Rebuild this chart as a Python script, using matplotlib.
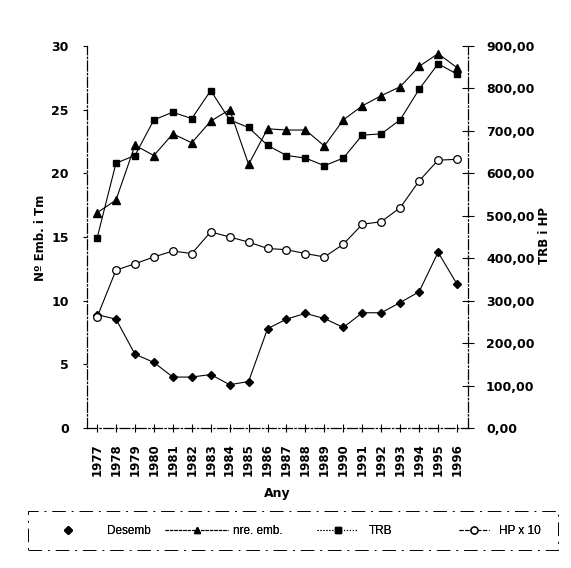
import matplotlib
matplotlib.use("Agg")
import matplotlib.pyplot as plt
from matplotlib.lines import Line2D
from matplotlib.patches import Rectangle
from matplotlib.ticker import FuncFormatter

plt.rcParams['font.family'] = ['DejaVu Sans']

years = list(range(1977, 1997))
desemb = [8.9, 8.55, 5.8, 5.15, 4.0, 4.0, 4.2, 3.4, 3.65, 7.8, 8.55, 9.0, 8.6, 7.9, 9.05, 9.05, 9.85, 10.7, 13.8, 11.3]
nre_emb = [16.9, 17.9, 22.2, 21.4, 23.1, 22.4, 24.1, 25.0, 20.7, 23.5, 23.4, 23.4, 22.15, 24.2, 25.3, 26.1, 26.8, 28.4, 29.4, 28.3]
# right-axis units (TRB i HP)
trb = [447, 624, 642, 726, 744, 729, 795, 726, 708, 666, 642, 636, 618, 636, 690, 693, 726, 798, 858, 834]
hp_x10 = [261, 372, 387, 403, 417, 411, 462, 450, 438, 423, 420, 411, 403, 433, 480, 486, 519, 582, 631, 633]

left_ticks = [0, 5, 10, 15, 20, 25, 30]
right_ticks = [0, 100, 200, 300, 400, 500, 600, 700, 800, 900]
labels = ['Desemb', 'nre. emb.', 'TRB', 'HP x 10']

W, H = 571, 568
fig = plt.figure(figsize=(W / 100, H / 100), dpi=100)
ax = fig.add_axes([87 / W, 1 - 428 / H, (468 - 87) / W, (428 - 46) / H])
ax2 = ax.twinx()

lw = 0.8
ax.plot(years, desemb, color='black', lw=lw, marker='D', ms=4.5, zorder=3)
ax.plot(years, nre_emb, color='black', lw=lw, marker='^', ms=5.5, zorder=3)
ax2.plot(years, trb, color='black', lw=lw, marker='s', ms=5, zorder=3)
ax2.plot(years, hp_x10, color='black', lw=lw, marker='o', ms=5.5, mfc='white', mec='black', mew=0.9, zorder=3)

ax.set_xlim(1976.47, 1996.58)
ax.set_ylim(0, 30)
ax2.set_ylim(0, 900)
ax.set_xticks(years)
ax.set_xticklabels([str(y) for y in years], rotation=90, fontsize=8.5, fontweight='bold')
ax.set_yticks(left_ticks)
ax.set_yticklabels([str(v) for v in left_ticks], fontsize=9, fontweight='bold')
ax2.set_yticks(right_ticks)
ax2.yaxis.set_major_formatter(FuncFormatter(lambda v, p: f"{v:.2f}".replace('.', ',')))
for lab in ax2.get_yticklabels():
    lab.set_fontsize(9)
    lab.set_fontweight('bold')

ax.tick_params(axis='x', direction='inout', length=6, width=0.8, pad=8)
ax.tick_params(axis='y', direction='out', length=3, width=0.8, pad=10)
ax2.tick_params(axis='y', direction='inout', length=8, width=0.8, pad=9)

for a in (ax, ax2):
    a.spines['top'].set_visible(False)
    for s in ('left', 'right', 'bottom'):
        a.spines[s].set_linewidth(0.9)
        a.spines[s].set_linestyle((0, (8, 2, 1, 2)))
ax2.spines['left'].set_visible(False)
ax2.spines['bottom'].set_visible(False)
ax.spines['right'].set_visible(False)

ax.set_xlabel('Any', fontsize=9, fontweight='bold', labelpad=8)
fig.text(40 / W, 1 - 238 / H, 'Nº Emb. i Tm', rotation=90, ha='center', va='center',
         fontsize=8.5, fontweight='bold')
fig.text(545 / W, 1 - 236 / H, 'TRB i HP', rotation=90, ha='center', va='center',
         fontsize=8.5, fontweight='bold')

# legend: one entry per legend so each can be placed like the original
handles = [
    Line2D([], [], color='black', lw=0, marker='D', ms=4),
    Line2D([], [], color='black', lw=0.8, marker='^', ms=5, linestyle=(0, (3, 1))),
    Line2D([], [], color='black', lw=0.8, marker='s', ms=5, linestyle=':'),
    Line2D([], [], color='black', lw=0.8, marker='o', ms=5, mfc='white', linestyle='--'),
]
leg_start = [48, 165, 317, 459]
leg_len = [40, 63, 41, 30]
leg_pad = [19, 4.7, 11, 10]
fs = 8.5
em = fs * 100 / 72
leg_y = 1 - 531 / H
for hnd, lab, s0, L, p in zip(handles, labels, leg_start, leg_len, leg_pad):
    lg = fig.legend([hnd], [lab], loc='center left', bbox_to_anchor=(s0 / W, leg_y),
                    frameon=False, borderpad=0, borderaxespad=0,
                    handlelength=L / em, handletextpad=p / em,
                    prop={'family': 'Liberation Sans', 'size': fs})
    fig.add_artist(lg)

fig.add_artist(Rectangle((28 / W, 1 - 550 / H), (558 - 28) / W, (550 - 511) / H,
                         transform=fig.transFigure, fill=False, edgecolor='black',
                         lw=0.7, linestyle=(0, (14, 6, 2, 6))))

fig.savefig('out.png', dpi=100)
